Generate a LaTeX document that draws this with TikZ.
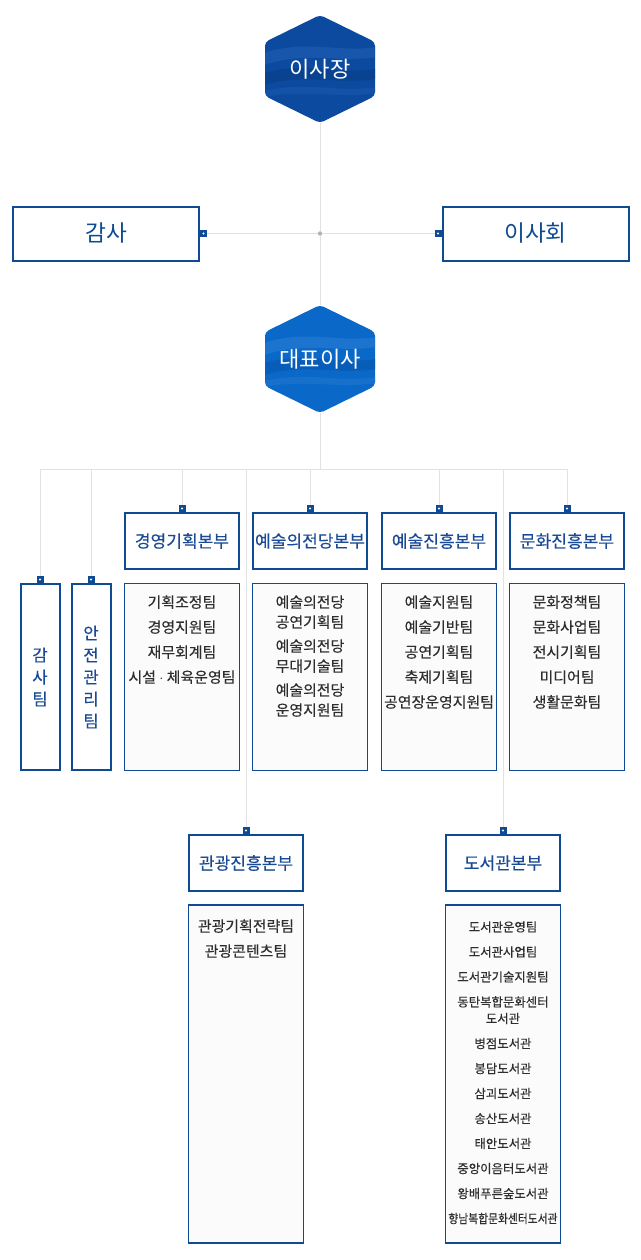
\documentclass[tikz,border=0pt]{standalone}
\usepackage{fontspec}
\setmainfont{Noto Sans CJK KR}
\newfontfamily\boldishfont[FakeBold=0.25]{Noto Sans CJK KR}
\newfontfamily\narrowfont[FakeStretch=0.87,FakeBold=0.25]{Noto Sans CJK KR}
\usetikzlibrary{calc}
\definecolor{hexdark}{HTML}{0B4A9E}
\definecolor{hexdarkwave}{HTML}{2462B6}
\definecolor{hexdarkdeep}{HTML}{083E88}
\definecolor{hexlight}{HTML}{0A68C8}
\definecolor{hexlightwave}{HTML}{2E80D6}
\definecolor{hexlightdeep}{HTML}{0657AE}
\definecolor{frameblue}{HTML}{0E4B92}
\definecolor{headblue}{HTML}{1A4A95}
\definecolor{linegray}{HTML}{E2E2E2}
\definecolor{teamgray}{HTML}{2E2E2E}
\def\hexcell(#1,#2)#3#4#5{%
  \begin{scope}
    \clip[rounded corners=3pt] (#1,#2-54) -- (#1+55,#2-27) -- (#1+55,#2+27) -- (#1,#2+54) -- (#1-55,#2+27) -- (#1-55,#2-27) -- cycle;
    \fill[#3] (#1-56,#2-55) rectangle (#1+56,#2+55);
    \fill[#4, opacity=0.5] (#1-56,#2-16) .. controls (#1-15,#2-30) and (#1+20,#2-16) .. (#1+56,#2-22) -- (#1+56,#2-12) .. controls (#1+20,#2-6) and (#1-15,#2-18) .. (#1-56,#2-4) -- cycle;
    \fill[#5, opacity=0.6] (#1-56,#2+4) .. controls (#1-15,#2-8) and (#1+20,#2+6) .. (#1+56,#2) -- (#1+56,#2+10) .. controls (#1+20,#2+16) and (#1-15,#2+4) .. (#1-56,#2+16) -- cycle;
    \fill[#4, opacity=0.35] (#1-56,#2+22) .. controls (#1-15,#2+12) and (#1+20,#2+24) .. (#1+56,#2+18) -- (#1+56,#2+24) .. controls (#1+20,#2+30) and (#1-15,#2+20) .. (#1-56,#2+28) -- cycle;
  \end{scope}}
\def\marker#1#2#3{%
  \fill[frameblue] ($(#1)+(#2,#3)+(-3.5,-3.5)$) rectangle ($(#1)+(#2,#3)+(3.5,3.5)$);
  \fill[white] ($(#1)+(#2,#3)$) circle (0.9pt);}

\begin{document}
\begin{tikzpicture}[x=0.75pt, y=-0.75pt,
    link/.style={draw=linegray, line width=0.75pt},
    hexnode/.style={minimum width=81.75pt, minimum height=81pt, inner sep=0pt, text=white, font=\fontsize{16.6}{20}\selectfont},
    topbox/.style={draw=frameblue, line width=1.5pt, fill=white, text=frameblue, minimum width=139.5pt, minimum height=40.5pt, inner sep=0pt, font=\fontsize{17}{20}\selectfont},
    headbox/.style={draw=frameblue, line width=1.5pt, fill=white, text=headblue, minimum width=85.5pt, minimum height=42pt, inner sep=0pt, font=\boldishfont\fontsize{12.8}{15}\selectfont},
    sidebox/.style={draw=frameblue, line width=1.5pt, fill=white, text=headblue, minimum width=29.25pt, minimum height=139.5pt, inner sep=0pt, align=center, font=\boldishfont\fontsize{12.5}{16.5}\selectfont},
    teambox/.style={draw=frameblue, line width=0.8pt, fill=black!1.5, minimum width=86.25pt, minimum height=140.25pt, inner sep=0pt},
    tallbox/.style={teambox, minimum height=253.5pt},
    teamtext/.style={anchor=north, inner sep=0pt, align=center, text=teamgray, font=\boldishfont\fontsize{11.2}{18.75}\selectfont},
    smalltext/.style={teamtext, font=\boldishfont\fontsize{9.3}{18.75}\selectfont}]
    \useasboundingbox (0,0) rectangle (640,1260);
    %%%%% START %%%%%

    % top level
    \hexcell(320,69){hexdark}{hexdarkwave}{hexdarkdeep}
    \node[hexnode] (chair) at (320,69) {이사장};
    \hexcell(320,359){hexlight}{hexlightwave}{hexlightdeep}
    \node[hexnode] (ceo) at (320,359) {대표이사};

    \node[topbox] (audit) at (106,233.5) {감사};
    \node[topbox] (board) at (535.5,233.5) {이사회};
    \coordinate (cross) at (320,233.5);
    \coordinate (hub) at (320,469);

    \draw[link] (chair.south) -- (ceo.north);
    \draw[link] (audit.east) -- (board.west);
    \fill[black!30] (cross) circle (1.6pt);
    \marker{audit.east}{3.5}{0}
    \marker{board.west}{-3.5}{0}

    % second level
    \node[sidebox] (auditteam) at (40,677) {감\\사\\팀};
    \node[sidebox] (safety) at (91,677) {안\\전\\관\\리\\팀};
    \node[headbox] (plan) at (182,541) {경영기획본부};
    \node[headbox] (hall) at (310,541) {예술의전당본부};
    \node[headbox] (arts) at (439,541) {예술진흥본부};
    \node[headbox] (culture) at (567,541) {문화진흥본부};
    \node[headbox] (tour) at (246,863) {관광진흥본부};
    \node[headbox] (library) at (503,863) {도서관본부};

    \draw[link] (ceo.south) -- (hub);
    \foreach \n in {auditteam,safety,plan,hall,arts,culture,tour,library}
        \draw[link] (hub) -| (\n.north);
    \foreach \n in {auditteam,safety,plan,hall,arts,culture,tour,library}
        {\marker{\n.north}{0}{-3.5}}

    % teams
    \node[teambox] (planlist) at (182,677) {};
    \node[teambox] (halllist) at (310,677) {};
    \node[teambox] (artslist) at (439,677) {};
    \node[teambox] (culturelist) at (567,677) {};
    \node[tallbox] (tourlist) at (246,1074) {};
    \node[tallbox] (librarylist) at (503,1074) {};

    \node[teamtext] (planteams) at (182,595) {기획조정팀\\경영지원팀\\재무회계팀\\시설 $\cdot$ 체육운영팀};
    \node[teamtext, font=\boldishfont\fontsize{11.2}{15}\selectfont] (hallteams) at (310,595) {예술의전당\\공연기획팀\\[3pt]예술의전당\\무대기술팀\\[3pt]예술의전당\\운영지원팀};
    \node[teamtext] (artsteams) at (439,595) {예술지원팀\\예술기반팀\\공연기획팀\\축제기획팀\\공연장운영지원팀};
    \node[teamtext] (cultureteams) at (567,595) {문화정책팀\\문화사업팀\\전시기획팀\\미디어팀\\생활문화팀};
    \node[teamtext] (tourteams) at (246,919) {관광기획전략팀\\관광콘텐츠팀};
    \node[smalltext] (libraryteams) at (503,921) {도서관운영팀\\도서관사업팀\\도서관기술지원팀\\동탄복합문화센터\\[-6.25pt]도서관\\병점도서관\\봉담도서관\\삼괴도서관\\송산도서관\\태안도서관\\중앙이음터도서관\\왕배푸른숲도서관\\{\narrowfont 향남복합문화센터도서관}};

    %%%%% END %%%%%
\end{tikzpicture}
\end{document}
